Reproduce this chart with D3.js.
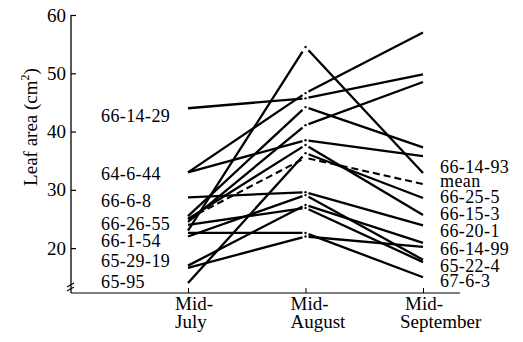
<!DOCTYPE html>
<html><head><meta charset="utf-8">
<script src="https://cdn.jsdelivr.net/npm/d3@7"></script>
<style>body{margin:0;background:#fff}svg{display:block}</style>
</head><body>
<svg id="c" width="523" height="342"></svg>
<script>
const periods = ["July", "August", "September"];
const periodTop = "Mid-";
const cultivars = [
  [44.0, 45.7, 49.8],
  [33.0, 46.6, 57.0],
  [23.0, 54.5, 32.9],
  [25.5, 44.2, 37.3],
  [24.5, 41.1, 48.5],
  [33.0, 38.5, 35.8],
  [28.7, 29.6, 23.9],
  [22.6, 22.6, 15.0],
  [16.6, 22.0, 20.2],
  [17.0, 27.4, 20.9],
  [14.0, 36.3, 28.6],
  [25.0, 37.7, 25.7],
  [22.0, 29.1, 18.0],
  [24.0, 26.9, 17.6]
];
const meanValues = [25.0, 35.5, 31.0];
const leftLabels = ["66-14-29", "64-6-44", "66-6-8", "66-26-55", "66-1-54", "65-29-19", "65-95"];
const leftLabelValues = [42.8, 32.86, 28.23, 24.3, 21.37, 17.94, 14.34];
const rightLabels = ["66-14-93", "mean", "66-25-5", "66-15-3", "66-20-1", "66-14-99", "65-22-4", "67-6-3"];
const rightLabelValues = [34.06, 31.66, 28.9, 25.99, 23.09, 20.0, 17.1, 14.37];
const yTicks = [20, 30, 40, 50, 60];

const svg = d3.select("#c");
const font = "'Liberation Serif', 'DejaVu Serif', serif";
const fs = 19, lfs = 18;
const y = d3.scaleLinear().domain([12.3, 60]).range([293, 15]);
const x = d3.scalePoint().domain(periods).range([188, 423]);
const axisX = 71;

// y axis
const yAxis = d3.axisLeft(y).tickValues(yTicks).tickSizeInner(-5).tickSizeOuter(0).tickPadding(5);
const gy = svg.append("g").attr("transform", `translate(${axisX},0)`).call(yAxis);
gy.select(".domain").remove();
gy.selectAll(".tick line").attr("stroke", "#000").attr("stroke-width", 1.2);
gy.selectAll(".tick text").attr("font-family", font).attr("font-size", fs).attr("fill", "#000");
svg.append("line").attr("x1", axisX).attr("x2", axisX).attr("y1", y(60)).attr("y2", y(12.3))
  .attr("stroke", "#000").attr("stroke-width", 1.3);
// break marks
[0, 4].forEach(d => {
  svg.append("line").attr("x1", axisX - 4).attr("x2", axisX + 3)
    .attr("y1", 289 - d + 2).attr("y2", 289 - d - 2)
    .attr("stroke", "#000").attr("stroke-width", 1.1);
});

// x axis
svg.append("line").attr("x1", axisX).attr("x2", 460).attr("y1", y(12.3)).attr("y2", y(12.3))
  .attr("stroke", "#000").attr("stroke-width", 1.2);
const gx = svg.append("g").attr("transform", `translate(0,${y(12.3)})`)
  .call(d3.axisBottom(x).tickSizeInner(-5).tickSizeOuter(0).tickFormat(""));
gx.select(".domain").remove();
gx.selectAll(".tick line").attr("stroke", "#000").attr("stroke-width", 1);
periods.forEach(p => {
  const t = svg.append("text").attr("font-family", font).attr("font-size", fs).attr("fill", "#000");
  const off = p === "September" ? [18, 23] : (p === "August" ? [15, 15] : [13, 13]);
  t.append("tspan").attr("x", x(p) - off[0]).attr("y", 310).text(periodTop);
  t.append("tspan").attr("x", x(p) - off[1]).attr("y", 328).text(p);
});

// y label
const yl = svg.append("text").attr("transform", "translate(37,127) rotate(-90)")
  .attr("text-anchor", "middle").attr("font-family", font).attr("font-size", fs).attr("fill", "#000");
yl.append("tspan").text("Leaf area (cm");
yl.append("tspan").attr("dy", -8).attr("font-size", 12).text("2");
yl.append("tspan").attr("dy", 8).text(")");

// lines with small gap at August
const gap = 3;
function segs(vals) {
  const x0 = x(periods[0]), x1 = x(periods[1]), x2 = x(periods[2]);
  const y0 = y(vals[0]), y1 = y(vals[1]), y2 = y(vals[2]);
  return [
    [[x0, y0], [x1 - gap, y0 + (y1 - y0) * (1 - gap / (x1 - x0))]],
    [[x1 + gap, y1 + (y2 - y1) * (gap / (x2 - x1))], [x2, y2]]
  ];
}
const line = d3.line();
cultivars.forEach(v => {
  segs(v).forEach(s => svg.append("path").attr("d", line(s)).attr("fill", "none")
    .attr("stroke", "#000").attr("stroke-width", 2.3).attr("stroke-linecap", "butt"));
  svg.append("circle").attr("cx", x(periods[1])).attr("cy", y(v[1])).attr("r", 1.2).attr("fill", "#000");
});
segs(meanValues).forEach(s => svg.append("path").attr("d", line(s)).attr("fill", "none")
  .attr("stroke", "#000").attr("stroke-width", 2.1).attr("stroke-dasharray", "7,4"));

// labels
leftLabels.forEach((l, i) => svg.append("text").attr("x", 101).attr("y", y(leftLabelValues[i]) + 6.5)
  .attr("font-family", font).attr("font-size", lfs).attr("letter-spacing", 0.4).attr("fill", "#000").text(l));
rightLabels.forEach((l, i) => svg.append("text").attr("x", 440).attr("y", y(rightLabelValues[i]) + 6.5)
  .attr("font-family", font).attr("font-size", lfs).attr("letter-spacing", 0.4).attr("fill", "#000").text(l));
</script>
</body></html>
